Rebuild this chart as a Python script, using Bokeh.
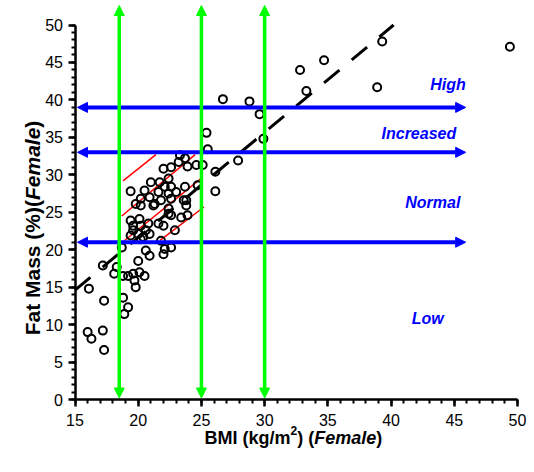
import math
from bokeh.plotting import figure
from bokeh.models import Range1d, FixedTicker, Arrow, NormalHead, Label
from bokeh.embed import file_html
from bokeh.resources import INLINE

# ---------------- data ----------------
bmi = [23.3, 23.7, 23.2, 24.6, 25.1, 23.9, 22.6, 22.0, 26.1,
       21.0, 21.7, 22.4, 22.1, 22.6, 23.7, 24.7, 26.1, 19.4, 20.5, 21.6, 22.4, 23.0,
       19.8, 20.2, 20.9, 21.3, 21.8, 22.6, 23.6, 23.8, 20.2, 21.2, 22.4, 23.8,
       19.4, 20.1, 19.6, 19.6, 20.2, 20.8, 21.6, 22.4, 22.6, 23.4, 23.9, 19.4, 20.0,
       20.6, 20.4, 20.9, 22.9, 22.0,
       20.2, 18.7, 20.6, 20.9, 21.8, 22.1, 22.6, 22.0,
       17.2, 18.3, 18.1, 18.8, 19.2, 19.6, 20.1, 20.5, 20.0, 19.7, 19.8, 16.1, 17.3,
       18.8, 19.2, 18.9, 16.0, 16.3, 17.2, 17.3,
       26.7, 28.8, 29.6, 29.9, 25.4, 25.5, 27.9, 32.8, 34.7, 33.3, 38.9, 39.3, 49.4]
fat = [32.6, 32.2, 31.7, 31.3, 31.3, 31.1, 31.0, 30.8, 30.4,
       29.0, 29.0, 29.5, 28.4, 28.4, 28.4, 28.6, 27.8, 27.8, 27.9, 27.7, 27.5, 27.7,
       26.1, 26.8, 27.0, 26.1, 26.6, 26.8, 26.6, 26.6, 25.9, 25.9, 25.5, 25.9,
       23.9, 24.1, 23.2, 22.6, 23.2, 23.5, 23.5, 24.8, 24.6, 24.3, 24.6, 21.9, 22.1,
       22.6, 21.7, 22.1, 22.6, 23.2,
       21.4, 20.3, 19.9, 19.2, 21.2, 20.1, 20.3, 19.4,
       17.9, 17.7, 16.8, 16.5, 16.5, 16.8, 17.0, 16.5, 18.5, 15.9, 15.0, 14.8, 13.2,
       13.6, 12.3, 11.4, 9.0, 8.1, 9.2, 6.6,
       40.1, 39.8, 38.1, 34.8, 35.6, 33.4, 31.9, 44.0, 45.3, 41.2, 41.7, 47.8, 47.1]

# fitted regression line (end points)
reg_bmi = [15.0, 40.2]
reg_fat = [14.6, 50.0]

# classification cut-offs
bmi_cutoffs = [18.5, 25.0, 30.0]
fat_cutoffs = [21.0, 33.0, 39.0]

# fat-mass categories
category_names = ["Low", "Normal", "Increased", "High"]
category_bmi = [42.9, 43.3, 42.2, 44.5]
category_fat = [10.8, 26.3, 35.5, 42.1]

# red hatch lines inside the "normal" box
hatch_x0 = [18.8, 18.7, 18.9, 21.7]
hatch_y0 = [29.2, 24.5, 21.2, 21.2]
hatch_x1 = [21.4, 24.5, 25.1, 25.2]
hatch_y1 = [32.7, 32.7, 29.7, 25.7]

x_ticks = [15, 20, 25, 30, 35, 40, 45, 50]
y_ticks = [0, 5, 10, 15, 20, 25, 30, 35, 40, 45, 50]
x_minor = list(range(15, 51))
y_minor = list(range(0, 51))

FONT = "Liberation Sans"
BLUE = "#0000FF"
GREEN = "#00FF00"

W, H = 534, 472
# pixel placement of the axes inside the canvas
X_LEFT_PX, X_RIGHT_PX = 74.5, 517.0      # x = 15 and x = 50
Y_BOTTOM_PX, Y_TOP_PX = 399.0, 24.5      # y = 0 and y = 50 (from top)
xs = (X_RIGHT_PX - X_LEFT_PX) / 35.0
ys = (Y_BOTTOM_PX - Y_TOP_PX) / 50.0
x_range = Range1d(15 - X_LEFT_PX / xs, 15 + (W - X_LEFT_PX) / xs)
y_range = Range1d(-(H - Y_BOTTOM_PX) / ys, Y_BOTTOM_PX / ys)

# ---------------- figure ----------------
p = figure(width=W, height=H, x_range=x_range, y_range=y_range,
           output_backend="svg", toolbar_location=None,
           min_border_left=0, min_border_right=0, min_border_top=0, min_border_bottom=0)
p.xgrid.visible = False
p.ygrid.visible = False
p.outline_line_color = None
p.background_fill_color = "white"

p.xaxis.fixed_location = 0
p.yaxis.fixed_location = 15
for ax, ticks, minor, bnds in ((p.xaxis, x_ticks, x_minor, (15, 50)),
                               (p.yaxis, y_ticks, y_minor, (0, 50))):
    ax.ticker = FixedTicker(ticks=ticks, minor_ticks=minor)
    ax.bounds = bnds
    ax.axis_line_width = 2.5
    ax.axis_line_color = "black"
    ax.major_tick_line_width = 2.5
    ax.minor_tick_line_width = 2
    ax.major_tick_line_color = "black"
    ax.minor_tick_line_color = "black"
    ax.major_tick_out = 7
    ax.major_tick_in = 0
    ax.minor_tick_out = 4
    ax.minor_tick_in = 0
    ax.major_label_text_font = FONT
    ax.major_label_text_font_size = "16px"
    ax.major_label_text_color = "black"
p.xaxis.major_label_standoff = 7
p.yaxis.major_label_standoff = 5

# hatch lines
p.segment(hatch_x0, hatch_y0, hatch_x1, hatch_y1, line_color="red", line_width=1.5)

# data points
p.scatter(bmi, fat, marker="circle", size=8, line_color="black", line_width=2,
          fill_alpha=0)

# regression line
p.line(reg_bmi, reg_fat, line_color="black", line_width=3, line_dash="20 16")

# cut-off arrows
for c in fat_cutoffs:
    p.add_layout(Arrow(x_start=15.2, y_start=c, x_end=45.9, y_end=c,
                       start=NormalHead(size=10, fill_color=BLUE, line_color=BLUE, line_width=1),
                       end=NormalHead(size=10, fill_color=BLUE, line_color=BLUE, line_width=1),
                       line_color=BLUE, line_width=4))
for c in bmi_cutoffs:
    p.add_layout(Arrow(x_start=c, y_start=0.2, x_end=c, y_end=52.6,
                       start=NormalHead(size=10, fill_color=GREEN, line_color=GREEN, line_width=1),
                       end=NormalHead(size=10, fill_color=GREEN, line_color=GREEN, line_width=1),
                       line_color=GREEN, line_width=3.5))

for name, bx, fy in zip(category_names, category_bmi, category_fat):
    p.add_layout(Label(x=bx, y=fy, text=name, text_font=FONT, text_font_size="16px",
                       text_font_style="bold italic", text_color=BLUE,
                       text_align="center", text_baseline="middle"))


# ---------------- axis titles (mixed styles) ----------------
def add_piece(x, y, text, style, size, angle=0.0):
    p.add_layout(Label(x=x, y=y, x_units="screen", y_units="screen", text=text,
                       text_font=FONT, text_font_size=size, text_font_style=style,
                       text_color="black", text_align="left", text_baseline="alphabetic",
                       angle=angle))


# x title: "BMI (kg/m2) (Female)"  (screen units from bottom-left of the canvas)
fs = 18
x0, yb = 204.0, H - 437.0
w1 = 4778 * fs / 1000
w2 = 556 * 12 / 1000
w3 = 944 * fs / 1000
w4 = 3446 * fs / 1000
add_piece(x0, yb, "BMI (kg/m", "bold", f"{fs}px")
add_piece(x0 + w1, yb + 7, "2", "bold", "12px")
add_piece(x0 + w1 + w2, yb, ") (", "bold", f"{fs}px")
add_piece(x0 + w1 + w2 + w3, yb, "Female", "bold italic", f"{fs}px")
add_piece(x0 + w1 + w2 + w3 + w4, yb, ")", "bold", f"{fs}px")

# y title: "Fat Mass (%)(Female)"
fy_s = 21
ang = math.pi / 2
xb = 32.0
v1 = 6445 * fy_s / 1000
v2 = 3446 * fy_s / 1000
total = v1 + v2 + 333 * fy_s / 1000
ystart = (H - 227.5) - total / 2
add_piece(xb, ystart, "Fat Mass (%)(", "bold", f"{fy_s}px", ang)
add_piece(xb, ystart + v1, "Female", "bold italic", f"{fy_s}px", ang)
add_piece(xb, ystart + v1 + v2, ")", "bold", f"{fy_s}px", ang)

open("out.html", "w").write(file_html(p, INLINE))
